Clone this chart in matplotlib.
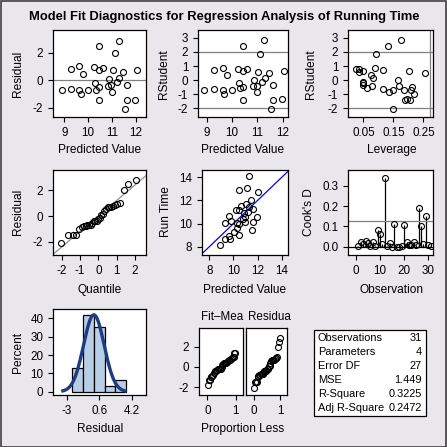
import numpy as np
import matplotlib
matplotlib.use("Agg")
import matplotlib.pyplot as plt
from matplotlib import font_manager as fm
from matplotlib.patches import Rectangle
from statistics import NormalDist

# keep the regular-width Liberation Sans (drop the Narrow variant)
fm.fontManager.ttflist = [f for f in fm.fontManager.ttflist if 'Narrow' not in f.fname]
plt.rcParams['font.family'] = ['Liberation Sans', 'DejaVu Sans']
plt.rcParams['axes.unicode_minus'] = False

# observations sorted by predicted value
predicted = [8.89, 9.30, 9.30, 9.63, 9.63, 9.69, 9.80, 10.01, 10.23, 10.27, 10.31,
             10.44, 10.45, 10.45, 10.44, 10.61, 10.82, 10.87, 10.97, 10.99, 11.03,
             11.11, 11.20, 11.28, 11.30, 11.45, 11.62, 11.54, 11.62, 11.98, 12.04]
residual = [-0.75, 0.77, -0.67, 0.99, -0.75, -1.01, 0.41, -0.72, 0.92, -0.22, -0.70,
            2.48, 0.70, -0.53, -1.45, 0.89, -0.41, 0.05, -0.39, -0.87, 0.70,
            2.00, -0.17, 2.82, 0.14, 0.58, -0.39, -2.08, -1.45, -1.45, 0.70]
rstudent = [-0.74, 0.70, -0.67, 0.84, -0.74, -1.03, 0.34, -0.74, 0.77, -0.24, -0.60,
            2.42, 0.62, -0.53, -1.46, 0.77, -0.43, -0.02, -0.43, -0.82, 0.58,
            1.87, -0.14, 2.85, 0.14, 0.50, -0.38, -2.04, -1.46, -1.39, 0.62]
leverage = [0.150, 0.117, 0.117, 0.090, 0.187, 0.220, 0.077, 0.210, 0.024, 0.048, 0.063,
            0.133, 0.203, 0.213, 0.190, 0.036, 0.080, 0.167, 0.170, 0.137, 0.036,
            0.093, 0.048, 0.177, 0.083, 0.254, 0.048, 0.150, 0.205, 0.195, 0.050]

# Cook's D by observation number 1..31
cooks_d = [0.002, 0.025, 0.012, 0.030, 0.018, 0.003, 0.024, 0.002, 0.085, 0.064,
           0.014, 0.340, 0.006, 0.021, 0.001, 0.112, 0.001, 0.001, 0.002, 0.108,
           0.024, 0.007, 0.010, 0.025, 0.008, 0.192, 0.100, 0.015, 0.152, 0.008, 0.003]

stat_names = ["Observations", "Parameters", "Error DF", "MSE", "R-Square", "Adj R-Square"]
stat_values = ["31", "4", "27", "1.449", "0.3225", "0.2472"]

hist_edges = [-2.4, -1.2, 0.0, 1.2, 2.4, 3.6]

pred = np.array(predicted)
res = np.array(residual)
n = len(res)

W = H = 447
BG = '#e9e7ec'
FS = 8.4
LFS = 8.6

fig = plt.figure(figsize=(4.47, 4.47), dpi=100)
fig.patch.set_facecolor(BG)
fig.add_artist(Rectangle((0.5 / W, 0.5 / H), 1 - 1.5 / W, 1 - 1.5 / H, transform=fig.transFigure,
                         fill=False, edgecolor='#404040', lw=1.2))


def add_ax(l, t, r, b):
    ax = fig.add_axes([l / W, 1 - b / H, (r - l) / W, (b - t) / H])
    ax.set_facecolor('white')
    for s in ax.spines.values():
        s.set_linewidth(0.9)
    ax.tick_params(labelsize=FS, length=3.5, width=0.8, pad=3.5)
    return ax


def ftext(x, y, s, **kw):
    kw.setdefault('fontsize', LFS)
    kw.setdefault('ha', 'center')
    fig.text(x / W, 1 - y / H, s, va='center', **kw)


def circles(ax, x, y):
    ax.plot(x, y, 'o', mfc='none', mec='black', ms=4.3, mew=0.8, zorder=3)


fig.text(224 / W, 1 - 17 / H, "Model Fit Diagnostics for Regression Analysis of Running Time",
         ha='center', va='center', fontsize=9.4, fontweight='bold')

# row 1
ax = add_ax(53, 30, 146, 117)
circles(ax, pred, res)
ax.axhline(0, color='gray', lw=0.9)
ax.set_xlim(8.53, 12.42)
ax.set_ylim(-2.69, 3.64)
ax.set_xticks([9, 10, 11, 12])
ax.set_yticks([-2, 0, 2])
ftext(18, 74, "Residual", rotation=90)
ftext(100, 150, "Predicted Value")

ax = add_ax(198, 30, 288, 117)
circles(ax, pred, rstudent)
for v in (-2, 2):
    ax.axhline(v, color='gray', lw=0.9)
ax.set_xlim(8.66, 12.21)
ax.set_ylim(-2.64, 3.57)
ax.set_xticks([9, 10, 11, 12])
ax.set_yticks([-2, -1, 0, 1, 2, 3])
ftext(164, 74, "RStudent", rotation=90)
ftext(243, 150, "Predicted Value")

ax = add_ax(348, 30, 433, 117)
circles(ax, leverage, rstudent)
for v in (-2, 2):
    ax.axhline(v, color='gray', lw=0.9)
ax.axvline(0.272, color='gray', lw=0.9)
ax.set_xlim(-0.001, 0.282)
ax.set_ylim(-2.64, 3.57)
ax.set_xticks([0.05, 0.15, 0.25])
ax.set_yticks([-2, -1, 0, 1, 2, 3])
ftext(311, 74, "RStudent", rotation=90)
ftext(392, 150, "Leverage")

# row 2
ax = add_ax(53, 170, 146, 255)
sres = np.sort(res)
q = np.array([NormalDist().inv_cdf((i + 1 - 0.375) / (n + 0.25)) for i in range(n)])
sigma = np.sqrt(1.449)
xl = np.array([-2.47, 2.6])
ax.plot(xl, res.mean() + sigma * xl, color='#909090', lw=0.9)
circles(ax, q, sres)
ax.set_xlim(-2.47, 2.6)
ax.set_ylim(-3.02, 3.57)
ax.set_xticks([-2, -1, 0, 1, 2])
ax.set_yticks([-2, 0, 2])
ftext(18, 212, "Residual", rotation=90)
ftext(100, 290, "Quantile")

ax = add_ax(202, 170, 288, 255)
ax.plot([7, 15], [7, 15], color='blue', lw=0.9)
circles(ax, pred, pred + res)
ax.set_xlim(7.39, 14.52)
ax.set_ylim(7.28, 14.63)
ax.set_xticks([8, 10, 12, 14])
ax.set_yticks([8, 10, 12, 14])
ftext(166, 212, "Run Time", rotation=90)
ftext(245, 290, "Predicted Value")

ax = add_ax(348, 170, 433, 255)
obs = np.arange(1, n + 1)
ax.vlines(obs, 0, cooks_d, color='black', lw=0.9)
ax.axhline(0, color='black', lw=0.9)
ax.axhline(4 / n, color='gray', lw=0.9)
circles(ax, obs, cooks_d)
ax.set_xlim(-3.3, 32)
ax.set_ylim(-0.04, 0.377)
ax.set_xticks([0, 10, 20, 30])
ax.set_yticks([0.0, 0.1, 0.2, 0.3])
ax.set_yticklabels(['0.0', '0.1', '0.2', '0.3'])
ftext(309, 212, "Cook's D", rotation=90)
ftext(392, 290, "Observation")

# row 3: histogram
ax = add_ax(53, 309, 146, 395)
ax.hist(res, bins=hist_edges, weights=np.full(n, 100.0 / n), color='#b8cde6',
        edgecolor='black', lw=0.9)
sd = res.std(ddof=1)
xc = np.linspace(res.mean() - 3 * sd, res.mean() + 3 * sd, 200)
bw = hist_edges[1] - hist_edges[0]
yc = 100 * bw * np.array([NormalDist(res.mean(), sd).pdf(v) for v in xc])
ax.plot(xc, yc, color='#1e3d80', lw=2.4)
ax.set_xlim(-4.52, 5.78)
ax.set_ylim(-1.8, 45.1)
ax.set_xticks([-3, 0.6, 4.2])
ax.set_xticklabels(['-3', '0.6', '4.2'])
ax.set_yticks([0, 10, 20, 30, 40])
ftext(18, 352, "Percent", rotation=90)
ftext(100, 429, "Residual")

# residual-fit spread plot
prop = (np.arange(1, n + 1) - 0.5) / n
fitmean = np.sort(pred - pred.mean())
for i, (l, r, vals) in enumerate([(199, 243, fitmean), (246, 287, sres)]):
    ax = add_ax(l, 328, r, 395)
    circles(ax, prop, vals)
    ax.set_xlim(-0.29, 1.25)
    ax.set_ylim(-2.75, 3.83)
    ax.set_xticks([0, 1])
    ax.set_yticks([-2, 0, 2])
    if i == 1:
        ax.set_yticklabels([])
        ax.tick_params(axis='y', length=0)
ftext(201, 317, "Fit\u2013Mea", ha='left', fontsize=8.4)
ftext(248, 317, "Residua", ha='left', fontsize=8.4)
ftext(243, 429, "Proportion Less")

# fit statistics table
fig.add_artist(Rectangle((314 / W, 1 - 416 / H), 112 / W, 86 / H, transform=fig.transFigure,
                         facecolor='white', edgecolor='black', lw=0.9))
for k, (name, val) in enumerate(zip(stat_names, stat_values)):
    y = 1 - (338 + k * 14) / H
    fig.text(318 / W, y, name, ha='left', va='center', fontsize=7.9)
    fig.text(422 / W, y, val, ha='right', va='center', fontsize=7.9)

fig.savefig("out.png", dpi=100, facecolor=BG)
